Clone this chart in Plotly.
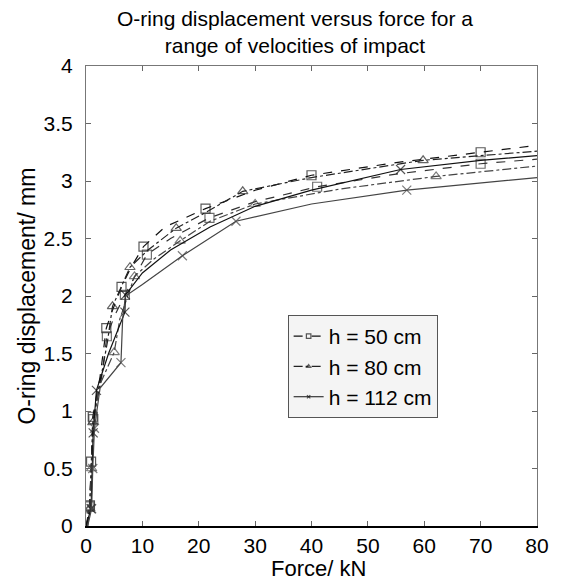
import plotly.graph_objects as go

# ---------------- data ----------------
# h = 50 cm, run 1 and run 2
f50a = [0, 0.5, 0.7, 0.9, 1.2, 2.5, 3.6, 4.5, 6.3, 8, 10.2, 14, 21.2, 30, 40, 55, 70, 80]
d50a = [0, 0.1, 0.18, 0.56, 0.95, 1.3, 1.72, 1.85, 2.08, 2.25, 2.43, 2.6, 2.76, 2.92, 3.05, 3.16, 3.25, 3.31]
m50a = [2, 3, 4, 6, 8, 10, 12, 14, 16]
f50b = [0.2, 0.6, 1.0, 1.3, 2.8, 3.7, 5, 6.9, 9, 10.8, 15, 21.9, 30, 41, 55, 70, 80]
d50b = [0, 0.17, 0.55, 0.93, 1.3, 1.65, 1.82, 2.01, 2.2, 2.36, 2.5, 2.68, 2.82, 2.95, 3.06, 3.15, 3.19]
m50b = [1, 3, 5, 7, 9, 11, 13, 15]

# h = 80 cm
f80a = [0, 0.6, 0.9, 1.2, 2.5, 3.8, 4.7, 6, 7.8, 11, 16, 21, 27.8, 40, 59.8, 70, 80]
d80a = [0, 0.15, 0.5, 0.9, 1.25, 1.6, 1.91, 2.05, 2.25, 2.4, 2.59, 2.72, 2.91, 3.03, 3.18, 3.22, 3.26]
m80a = [1, 3, 6, 8, 10, 12, 14]
f80b = [0.3, 0.7, 1.0, 1.4, 2.2, 5, 6, 8.6, 12, 16.7, 22, 30, 45, 62.1, 80]
d80b = [0, 0.15, 0.5, 0.88, 1.2, 1.51, 1.8, 2.17, 2.32, 2.48, 2.65, 2.8, 2.93, 3.04, 3.13]
m80b = [1, 2, 5, 7, 9, 11, 13]

# h = 112 cm
f112a = [0, 0.9, 1.1, 1.27, 1.85, 4, 6.9, 7, 10, 15, 22, 30, 40, 55.8, 70, 80]
d112a = [0, 0.15, 0.5, 0.81, 1.18, 1.5, 1.86, 2.01, 2.2, 2.4, 2.6, 2.78, 2.92, 3.1, 3.18, 3.22]
m112a = [1, 3, 4, 6, 7, 13]
f112b = [0.3, 1, 1.2, 1.5, 2.5, 6.2, 6.5, 7, 10, 17.1, 26.6, 40, 56.9, 70, 80]
d112b = [0, 0.15, 0.5, 0.85, 1.2, 1.42, 1.8, 2.0, 2.1, 2.35, 2.65, 2.8, 2.92, 2.98, 3.03]
m112b = [1, 2, 3, 5, 9, 10, 12]

x_ticks = [0, 10, 20, 30, 40, 50, 60, 70, 80]
y_ticks = [0, 0.5, 1, 1.5, 2, 2.5, 3, 3.5, 4]
series_names = ["h = 50 cm", "h = 80 cm", "h = 112 cm"]

FONT = "Liberation Sans, Arial, sans-serif"

fig = go.Figure()

def add_curve(xs, ys, midx, name, dash, symbol, color, show):
    sizes = [9 if i in midx else 0 for i in range(len(xs))]
    fig.add_trace(go.Scatter(
        x=xs, y=ys, mode="lines+markers", name=name,
        showlegend=show, legendgroup=name,
        line=dict(color=color, width=1.2, dash=dash),
        marker=dict(symbol=symbol, size=sizes, color=color,
                    line=dict(color=color, width=1.2)),
    ))

add_curve(f50a, d50a, m50a, series_names[0], "dash", "square-open", "#111", True)
add_curve(f50b, d50b, m50b, series_names[0], "dash", "square-open", "#333", False)
add_curve(f80a, d80a, m80a, series_names[1], "dashdot", "triangle-up-open", "#222", True)
add_curve(f80b, d80b, m80b, series_names[1], "dashdot", "triangle-up-open", "#444", False)
add_curve(f112a, d112a, m112a, series_names[2], "solid", "x-thin-open", "#111", True)
add_curve(f112b, d112b, m112b, series_names[2], "solid", "x-thin-open", "#444", False)

# dummy trace for top axis
fig.add_trace(go.Scatter(x=[None], y=[None], xaxis="x2", showlegend=False, hoverinfo="skip"))

L, R, T, B = 86, 12, 66, 56
W, H = 561, 582
pw, ph = W - L - R, H - T - B

def px(xp):
    return (xp - L) / pw

def py(yp):
    return (H - B - yp) / ph

fig.update_layout(
    width=W, height=H,
    margin=dict(l=L, r=R, t=T, b=B),
    paper_bgcolor="white", plot_bgcolor="white",
    font=dict(family=FONT, size=20, color="black"),
    showlegend=True,
    legend=dict(x=px(293), y=py(315), xanchor="left", yanchor="top",
                bgcolor="#f4f4f4", bordercolor="#555", borderwidth=1,
                font=dict(size=21, family=FONT), tracegroupgap=0,
                itemwidth=30),
    xaxis=dict(range=[0, 80], tickvals=x_ticks, ticks="inside", ticklen=5,
               tickcolor="#666", showline=True, linecolor="black", linewidth=1.5,
               showgrid=False, zeroline=False, ticklabelstandoff=0,
               tickfont=dict(size=21)),
    xaxis2=dict(range=[0, 80], overlaying="x", side="top", tickvals=x_ticks,
                ticks="inside", ticklen=5, tickcolor="#666", showline=True,
                linecolor="#777", showticklabels=False, showgrid=False, zeroline=False),
    yaxis=dict(range=[0, 4], tickvals=y_ticks, ticktext=[str(v) for v in y_ticks],
               ticks="inside", ticklen=5, tickcolor="#666", showline=True,
               linecolor="#777", mirror="ticks", showgrid=False, zeroline=False,
               ticklabelstandoff=8, tickfont=dict(size=21)),
    annotations=[
        dict(text="O-ring displacement versus force for a<br>range of velocities of impact",
             x=px(301), y=py(32), xref="paper", yref="paper", showarrow=False,
             font=dict(size=21), align="center", xanchor="center", yanchor="middle"),
        dict(text="Force/ kN", x=px(325), y=py(568), xref="paper", yref="paper",
             showarrow=False, font=dict(size=22), xanchor="center", yanchor="middle"),
        dict(text="O-ring displacement/ mm", x=px(25), y=0.5, xref="paper", yref="paper",
             showarrow=False, font=dict(size=23), textangle=-90,
             xanchor="center", yanchor="middle"),
    ],
)

fig.write_html("out.html")
